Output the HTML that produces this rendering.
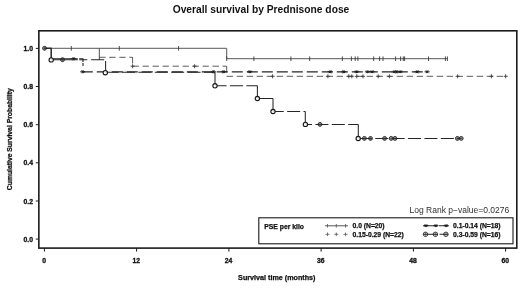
<!DOCTYPE html>
<html><head><meta charset="utf-8"><title>Overall survival by Prednisone dose</title>
<style>
html,body{margin:0;padding:0;background:#fff;}
body{width:520px;height:288px;overflow:hidden;}
svg{display:block;filter:blur(0.35px);}
text{font-family:"Liberation Sans",Arial,Helvetica,sans-serif;fill:#111;}
.ti{font-size:10.25px;font-weight:bold;}
.ax{font-size:6.8px;font-weight:bold;stroke:#111;stroke-width:0.25px;}
.tl{font-size:6.8px;font-weight:bold;stroke:#111;stroke-width:0.3px;}
.lg{font-size:6.8px;font-weight:bold;stroke:#111;stroke-width:0.25px;}
.lg2{font-size:6.75px;font-weight:bold;stroke:#111;stroke-width:0.25px;}
.pv{font-size:8.5px;fill:#303030;}
.c1{fill:none;stroke:#585858;stroke-width:1.0;}
.c2{fill:none;stroke:#262626;stroke-width:1.1;stroke-dasharray:11 4;}
.c3{fill:none;stroke:#4a4a4a;stroke-width:0.9;stroke-dasharray:6.3 3.7;}
.c4{fill:none;stroke:#262626;stroke-width:1.05;stroke-dasharray:13 3.4;}
.tk{fill:none;stroke:#3a3a3a;stroke-width:0.9;}
.tl2{fill:none;stroke:#5a5a5a;stroke-width:0.85;}
.st{fill:none;stroke:#1a1a1a;stroke-width:0.9;}
.ci{fill:rgba(255,255,255,0.85);stroke:#151515;stroke-width:1.1;}
.cc{fill:rgba(90,90,90,0.4);stroke:#1a1a1a;stroke-width:0.85;}
.cl{fill:rgba(120,120,120,0.08);stroke:#1a1a1a;stroke-width:0.8;}
.cp{fill:none;stroke:#333;stroke-width:0.55;}
</style></head>
<body>
<svg width="520" height="288" viewBox="0 0 520 288">
<rect width="520" height="288" fill="#fff"/>
<rect x="38.85" y="30.8" width="477.95" height="217.3" fill="none" stroke="#1c1c1c" stroke-width="1.6"/>
<path d="M35.8,48.4H38.8" stroke="#1c1c1c" stroke-width="1"/>
<text class="tl" x="33" y="50.9" text-anchor="end">1.0</text>
<path d="M35.8,86.5H38.8" stroke="#1c1c1c" stroke-width="1"/>
<text class="tl" x="33" y="89.0" text-anchor="end">0.8</text>
<path d="M35.8,124.7H38.8" stroke="#1c1c1c" stroke-width="1"/>
<text class="tl" x="33" y="127.2" text-anchor="end">0.6</text>
<path d="M35.8,162.8H38.8" stroke="#1c1c1c" stroke-width="1"/>
<text class="tl" x="33" y="165.3" text-anchor="end">0.4</text>
<path d="M35.8,201.0H38.8" stroke="#1c1c1c" stroke-width="1"/>
<text class="tl" x="33" y="203.5" text-anchor="end">0.2</text>
<path d="M35.8,239.1H38.8" stroke="#1c1c1c" stroke-width="1"/>
<text class="tl" x="33" y="241.6" text-anchor="end">0.0</text>
<path d="M44.4,248.1V251.6" stroke="#1c1c1c" stroke-width="1"/>
<text class="tl" x="44.1" y="263.4" text-anchor="middle">0</text>
<path d="M136.6,248.1V251.6" stroke="#1c1c1c" stroke-width="1"/>
<text class="tl" x="136.3" y="263.4" text-anchor="middle">12</text>
<path d="M228.9,248.1V251.6" stroke="#1c1c1c" stroke-width="1"/>
<text class="tl" x="228.6" y="263.4" text-anchor="middle">24</text>
<path d="M321.1,248.1V251.6" stroke="#1c1c1c" stroke-width="1"/>
<text class="tl" x="320.8" y="263.4" text-anchor="middle">36</text>
<path d="M413.4,248.1V251.6" stroke="#1c1c1c" stroke-width="1"/>
<text class="tl" x="413.1" y="263.4" text-anchor="middle">48</text>
<path d="M505.6,248.1V251.6" stroke="#1c1c1c" stroke-width="1"/>
<text class="tl" x="505.3" y="263.4" text-anchor="middle">60</text>
<path class="c1" d="M44.5,48.3H226.7V58.7H447.4"/>
<path class="tk" d="M71.3,46.0V50.6"/><path class="tk" d="M119.3,46.0V50.6"/><path class="tk" d="M178.6,46.0V50.6"/>
<path class="tk" d="M226.7,56.4V61.0"/><path class="tk" d="M253.9,56.4V61.0"/><path class="tk" d="M290.9,56.4V61.0"/><path class="tk" d="M309.7,56.4V61.0"/><path class="tk" d="M342.3,56.4V61.0"/><path class="tk" d="M351.4,56.4V61.0"/><path class="tk" d="M355.2,56.4V61.0"/><path class="tk" d="M357.9,56.4V61.0"/><path class="tk" d="M373.7,56.4V61.0"/><path class="tk" d="M379.6,56.4V61.0"/><path class="tk" d="M383.0,56.4V61.0"/><path class="tk" d="M395.6,56.4V61.0"/><path class="tk" d="M400.6,56.4V61.0"/><path class="tk" d="M403.3,56.4V61.0"/><path class="tk" d="M404.6,56.4V61.0"/><path class="tk" d="M428.5,56.4V61.0"/><path class="tk" d="M445.4,56.4V61.0"/><path class="tk" d="M447.4,56.4V61.0"/>
<path class="c3" d="M99.3,57.3L132.6,57.3"/><path class="c3" d="M132.6,57.3L132.6,66.2"/><path class="c3" d="M132.6,66.2L226.7,66.2"/><path class="c3" d="M226.7,66.2L226.7,76.3"/><path class="c3" d="M226.7,76.3L505.7,76.3"/>
<path class="tk" d="M99.3,48.5V60"/>
<path class="tk" d="M132.6,64.2V68.2M130.6,66.2H134.6"/><path class="tk" d="M194.6,64.2V68.2M192.6,66.2H196.6"/>
<path class="tk" d="M272.6,74.3V78.3M270.6,76.3H274.6"/><path class="tk" d="M327.9,74.3V78.3M325.9,76.3H329.9"/><path class="tk" d="M348.8,74.3V78.3M346.8,76.3H350.8"/><path class="tk" d="M351.8,74.3V78.3M349.8,76.3H353.8"/><path class="tk" d="M356.8,74.3V78.3M354.8,76.3H358.8"/><path class="tk" d="M363.0,74.3V78.3M361.0,76.3H365.0"/><path class="tk" d="M378.2,74.3V78.3M376.2,76.3H380.2"/><path class="tk" d="M389.4,74.3V78.3M387.4,76.3H391.4"/><path class="tk" d="M457.6,74.3V78.3M455.6,76.3H459.6"/><path class="tk" d="M491.4,74.3V78.3M489.4,76.3H493.4"/><path class="tk" d="M505.7,74.3V78.3M503.7,76.3H507.7"/>
<path class="c2" style="stroke-dasharray:none" d="M44.5,48.3H51.2V58.8H77.8M79.2,58.8H83V62M83,63V66"/>
<path class="c2" style="stroke-dashoffset:1.2" d="M83,71.9H427"/>
<path class="st" d="M71.1,58.8H76.3M72.4,57.5L75.0,60.1M72.4,60.1L75.0,57.5M73.7,57.4V60.2"/><path class="st" d="M80.1,71.8H85.3M81.4,70.5L84.0,73.1M81.4,73.1L84.0,70.5M82.7,70.4V73.2"/><path class="st" d="M210.9,71.8H216.1M212.2,70.5L214.8,73.1M212.2,73.1L214.8,70.5M213.5,70.4V73.2"/><path class="st" d="M221.1,71.8H226.3M222.4,70.5L225.0,73.1M222.4,73.1L225.0,70.5M223.7,70.4V73.2"/><path class="st" d="M247.2,71.8H252.4M248.5,70.5L251.1,73.1M248.5,73.1L251.1,70.5M249.8,70.4V73.2"/><path class="st" d="M327.6,71.8H332.8M328.9,70.5L331.5,73.1M328.9,73.1L331.5,70.5M330.2,70.4V73.2"/><path class="st" d="M341.1,71.8H346.3M342.4,70.5L345.0,73.1M342.4,73.1L345.0,70.5M343.7,70.4V73.2"/><path class="st" d="M354.0,71.8H359.2M355.3,70.5L357.9,73.1M355.3,73.1L357.9,70.5M356.6,70.4V73.2"/><path class="st" d="M364.8,71.8H370.0M366.1,70.5L368.7,73.1M366.1,73.1L368.7,70.5M367.4,70.4V73.2"/><path class="st" d="M369.5,71.8H374.7M370.8,70.5L373.4,73.1M370.8,73.1L373.4,70.5M372.1,70.4V73.2"/><path class="st" d="M391.6,71.8H396.8M392.9,70.5L395.5,73.1M392.9,73.1L395.5,70.5M394.2,70.4V73.2"/><path class="st" d="M393.9,71.8H399.1M395.2,70.5L397.8,73.1M395.2,73.1L397.8,70.5M396.5,70.4V73.2"/><path class="st" d="M397.7,71.8H402.9M399.0,70.5L401.6,73.1M399.0,73.1L401.6,70.5M400.3,70.4V73.2"/><path class="st" d="M414.6,71.8H419.8M415.9,70.5L418.5,73.1M415.9,73.1L418.5,70.5M417.2,70.4V73.2"/><path class="st" d="M424.5,71.8H429.7M425.8,70.5L428.4,73.1M425.8,73.1L428.4,70.5M427.1,70.4V73.2"/>
<path class="c4" style="stroke-dasharray:none" d="M44.5,48.3H51.2V59.8H77.8M79.2,59.8H87.3M91.1,59.8H104.2M105.6,61V72.3"/>
<path class="c4" d="M105.6,72.3L215.0,72.3"/><path class="c4" d="M215.0,72.3L215.0,85.8"/><path class="c4" style="stroke-dashoffset:1.4" d="M215.0,85.8L257.4,85.8"/><path class="c4" d="M257.4,85.8L257.4,98.5"/><path class="c4" d="M257.4,98.5L273.0,98.5"/><path class="c4" d="M273.0,98.5L273.0,111.5"/><path class="c4" style="stroke-dashoffset:2.3" d="M273.0,111.5L305.3,111.5"/><path class="c4" d="M305.3,111.5L305.3,124.4"/><path class="c4" style="stroke-dashoffset:6.3" d="M305.3,124.4L358.3,124.4"/><path class="c4" d="M358.3,124.4L358.3,138.4"/><path class="c4" style="stroke-dashoffset:15.85" d="M358.3,138.4L461.0,138.4"/>
<path class="c4" style="stroke-dasharray:none" d="M257.4,98.5H273"/>
<circle class="ci" cx="51.2" cy="59.9" r="2.15"/><circle class="ci" cx="105.3" cy="72.7" r="2.15"/><circle class="ci" cx="215.0" cy="85.8" r="2.15"/><circle class="ci" cx="257.4" cy="98.5" r="2.15"/><circle class="ci" cx="273.0" cy="111.5" r="2.15"/><circle class="ci" cx="305.4" cy="124.4" r="2.15"/><circle class="ci" cx="358.2" cy="138.5" r="2.15"/>
<circle class="cc" cx="44.5" cy="48.3" r="1.95"/><path class="cp" d="M42.5,48.3H46.5M44.5,46.3V50.2"/><circle class="cc" cx="62.5" cy="59.7" r="1.95"/><path class="cp" d="M60.5,59.7H64.5M62.5,57.8V61.7"/><circle class="cc" cx="320.0" cy="124.4" r="1.95"/><path class="cp" d="M318.1,124.4H321.9M320.0,122.5V126.4"/><circle class="cc" cx="364.4" cy="138.4" r="1.95"/><path class="cp" d="M362.4,138.4H366.3M364.4,136.5V140.3"/><circle class="cc" cx="370.5" cy="138.4" r="1.95"/><path class="cp" d="M368.6,138.4H372.4M370.5,136.5V140.3"/><circle class="cc" cx="384.6" cy="138.4" r="1.95"/><path class="cp" d="M382.7,138.4H386.6M384.6,136.5V140.3"/><circle class="cc" cx="391.2" cy="138.4" r="1.95"/><path class="cp" d="M389.2,138.4H393.1M391.2,136.5V140.3"/><circle class="cc" cx="395.0" cy="138.4" r="1.95"/><path class="cp" d="M393.1,138.4H396.9M395.0,136.5V140.3"/><circle class="cc" cx="457.4" cy="138.4" r="1.95"/><path class="cp" d="M455.4,138.4H459.3M457.4,136.5V140.3"/><circle class="cc" cx="461.2" cy="138.4" r="1.95"/><path class="cp" d="M459.2,138.4H463.1M461.2,136.5V140.3"/>
<rect x="258.8" y="217.8" width="254.2" height="26" fill="#fff" stroke="#1a1a1a" stroke-width="1.1"/>
<text class="lg" x="264.3" y="228.8">PSE per kilo</text>
<path class="c1" d="M325,225.8H348"/><path class="tl2" d="M327.5,224.0V227.6"/><path class="tl2" d="M336.3,224.0V227.6"/><path class="tl2" d="M345.5,224.0V227.6"/>
<text class="lg2" x="352.5" y="228.3">0.0 (N=20)</text>
<path class="tl2" d="M327.5,232.5V236.1M325.5,234.3H329.5"/><path class="tl2" d="M336.3,232.5V236.1M334.3,234.3H338.3"/><path class="tl2" d="M345.5,232.5V236.1M343.5,234.3H347.5"/>
<text class="lg2" x="352.5" y="236.8">0.15-0.29 (N=22)</text>
<path class="c2" style="stroke-dasharray:none" d="M423.4,225.7H437.6M439,225.7H448.4"/><path class="st" d="M423.3,225.7H428.5M424.6,224.4L427.2,227.0M424.6,227.0L427.2,224.4M425.9,224.3V227.1"/><path class="st" d="M433.3,225.7H438.5M434.6,224.4L437.2,227.0M434.6,227.0L437.2,224.4M435.9,224.3V227.1"/><path class="st" d="M443.6,225.7H448.8M444.9,224.4L447.5,227.0M444.9,227.0L447.5,224.4M446.2,224.3V227.1"/>
<text class="lg2" x="453" y="228.3">0.1-0.14 (N=18)</text>
<path class="c4" style="stroke-dasharray:none" d="M423.4,234.3H437.8M439.6,234.3H448.2"/><circle class="cl" cx="425.5" cy="234.3" r="2.25"/><path class="cp" d="M423.2,234.3H427.8M425.5,232.1V236.6"/><circle class="cl" cx="435.4" cy="234.3" r="2.25"/><path class="cp" d="M433.1,234.3H437.6M435.4,232.1V236.6"/><circle class="cl" cx="445.9" cy="234.3" r="2.25"/><path class="cp" d="M443.6,234.3H448.1M445.9,232.1V236.6"/>
<text class="lg2" x="453" y="236.8">0.3-0.59 (N=16)</text>
<text class="pv" x="409.5" y="213">Log Rank p−value=0.0276</text>
<text class="ti" x="261" y="12.8" text-anchor="middle">Overall survival by Prednisone dose</text>
<text class="ax" style="font-size:7px" x="238.1" y="280.1" textLength="77.4" lengthAdjust="spacingAndGlyphs">Survival time (months)</text>
<text class="ax" transform="translate(11.6,139.2) rotate(-90)" text-anchor="middle">Cumulative Survival Probability</text>
</svg>
</body></html>
